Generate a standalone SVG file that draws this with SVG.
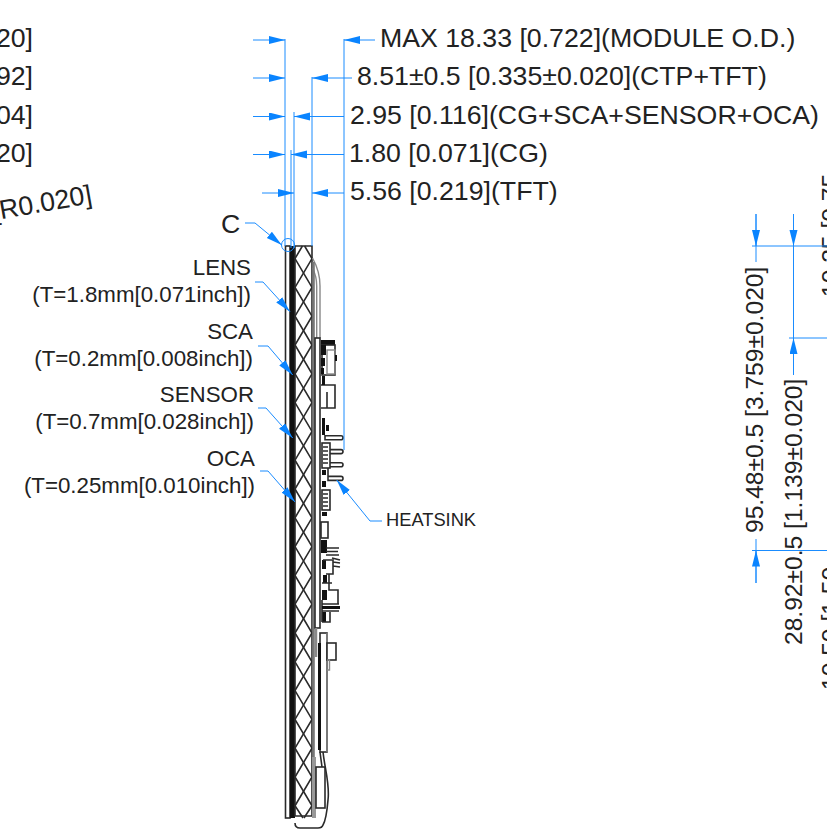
<svg xmlns="http://www.w3.org/2000/svg" width="827" height="832" viewBox="0 0 827 832">
<style>
text{font-family:"Liberation Sans",Arial,sans-serif;fill:#222}
.d{font-size:26.7px}
.r{font-size:24.6px}
.l{font-size:22.3px;text-anchor:end}
.ln{fill:none;stroke:#1a8cff;stroke-width:1}
.lm{fill:none;stroke:#1a8cff;stroke-width:1;marker-end:url(#a)}
.k{fill:none;stroke:#2a2a2a;stroke-width:1.6}
.g{fill:none;stroke:#888;stroke-width:1.4}
.f{fill:#fff;stroke:#2a2a2a;stroke-width:1.6}
.b{fill:#111}
</style>
<defs>
<marker id="a" markerUnits="userSpaceOnUse" markerWidth="17" markerHeight="9" refX="16" refY="4" orient="auto"><path d="M0 0L16 4L0 8Z" fill="#0a84ff"/></marker>
</defs>
<rect width="827" height="832" fill="#fff"/>
<g id="cropped-text">
<text class="d" x="33" y="47" text-anchor="end">20]</text>
<text class="d" x="33" y="85" text-anchor="end">92]</text>
<text class="d" x="33" y="124" text-anchor="end">04]</text>
<text class="d" x="33" y="162" text-anchor="end">20]</text>
<text class="d" x="93" y="203" text-anchor="end" transform="rotate(-10 93 203)">[R0.020]</text>
<text class="r" transform="translate(839 297) rotate(-90)">10.25 [0.75</text>
<text class="r" transform="translate(839 690) rotate(-90)">10.50 [1.50</text>
</g>
<g id="module">
<rect x="285.500" y="246" width="4.500" height="572" class="f"/>
<rect x="290" y="246" width="5" height="572" class="b"/>
<path d="M295 246H312V816H295Z" class="f"/>
<path class="k" d="M302.400 246L295 258.600L312 287.400L295 316.200L312 345L295 373.800L312 402.600L295 431.400L312 460.200L295 489L312 517.800L295 546.600L312 575.400L295 604.200L312 633L295 661.800L312 690.600L295 719.400L312 748.200L295 777L312 805.800L304 818"/>
<path class="k" d="M304.600 246L312 258.600L295 287.400L312 316.200L295 345L312 373.800L295 402.600L312 431.400L295 460.200L312 489L295 517.800L312 546.600L295 575.400L312 604.200L295 633L312 661.800L295 690.600L312 719.400L295 748.200L312 777L295 805.800L303 818"/>
<path class="g" d="M312.500 258C317 266 320 274 320 286V338M312.500 268C315 273 316.700 278 316.700 286V338"/>
<path d="M313.500 262V757" stroke="#777" stroke-width="2.600" fill="none"/>
</g>
<g id="pcb">
<rect x="315" y="338" width="5" height="290" class="f"/>
<path d="M316 628V657" stroke="#888" stroke-width="2.500" fill="none"/>
<rect x="321" y="340" width="14" height="5.500" class="b"/>
<rect x="322" y="345" width="13" height="30" class="f"/>
<rect x="327" y="350" width="8" height="24" class="g"/>
<path class="b" d="M321 345h5v10h-5zM321 358h4v8h-4zM321 368h3v6h-3z"/>
<rect x="335" y="355" width="2" height="6" class="b"/>
<path class="k" d="M321 385H335V408H321M327 392V408"/>
<path class="b" d="M322 376h3v9h-3zM322 418h3v17h-3zM326 425h3v6h-3z"/>
<g id="heatsink">
<path class="f" d="M325 435.700H341a2 2 0 0 1 0 4H325zM325 449.600H341a2 2 0 0 1 0 4H325zM325 462.700H341a2 2 0 0 1 0 4H325zM328 476.400H341a2 2 0 0 1 0 4H328V468"/>
</g>
<rect x="322" y="443" width="8" height="25" class="f"/>
<path class="k" d="M323 447h5M323 451h5M323 455h5M323 459h5M323 463h5"/>
<path class="b" d="M322 470h4v5h-4zM322 481h4v6h-4z"/>
<rect x="322" y="490" width="8" height="20" class="f"/>
<path class="k" d="M323 494h5M323 498h5M323 502h5M323 506h5"/>
<path class="b" d="M322 512h5v4h-5z"/>
<rect x="321" y="522" width="7" height="16" class="f"/>
<path class="b" d="M321 540h6v13h-6zM322 560h4v9h-4zM323 575h4v8h-4zM322 590h5v10h-5zM322 612h4v10h-4z"/>
<path class="k" d="M326 548H339M326 551.500H338M326 555H339M332 558L340 560M333 562L340 563M333 566L340 567M323 560H333V574H326M329 574V590H338V604M322 583H332M322 600V622M330 612V622H322"/>
<path d="M322 607.500H340" stroke="#111" stroke-width="3" fill="none"/>
<path class="k" d="M322 604H339M322 611H339"/>
<rect x="320" y="633" width="7" height="119" class="f"/>
<rect x="318" y="643" width="3" height="107" class="b"/>
<path class="g" d="M327 633V752"/>
<rect x="327" y="643" width="9" height="17" class="f"/>
<path class="g" d="M327 660H329.500V670H327"/>
<path d="M312 757H316V818H312Z" fill="#999"/>
<rect x="316" y="767" width="9" height="41" class="f"/>
<path class="k" d="M320 752L322 767M323 752C325 770 330 785 328 800C327 812 326 820 323 825C322 828 320 828 318 828H300C297 828 295 826 295 823"/>
</g>
<g id="connectors">
<path class="ln" d="M285 39V246M344 39V450M312 77V246M294 112V248M291 150V248"/>
<path class="lm" d="M253 40H285"/><path class="lm" d="M375 40H344"/>
<path class="lm" d="M253 78H285"/><path class="lm" d="M352 78H312"/>
<path class="lm" d="M253 116.500H285"/><path class="lm" d="M344 116.500H294"/>
<path class="lm" d="M253 154.500H285"/><path class="lm" d="M344 154.500H291"/>
<path class="lm" d="M262 193H294"/><path class="lm" d="M344 193H312"/>
<circle cx="288" cy="245" r="6.500" class="ln"/>
<path class="lm" d="M245 223H255L281.700 245"/>
<path class="lm" d="M255 282H263L290 311.700"/>
<path class="lm" d="M258 346H268L292.700 375"/>
<path class="lm" d="M258 408H266L292.700 438"/>
<path class="lm" d="M260 471H268L295 502"/>
<path class="lm" d="M382 521H370L336.700 480"/>
<path class="ln" d="M756 214V262M752 246H827M793.500 214V375M789 338H827M756 539V583M752 550.500H827"/>
<path class="lm" d="M756 214V246"/><path class="lm" d="M793.500 214V246"/>
<path class="lm" d="M793.500 375V338"/><path class="lm" d="M756 583V550.500"/>
</g>
<g id="dims">
<text class="d" x="380" y="47">MAX 18.33 [0.722](MODULE O.D.)</text>
<text class="d" x="357" y="85">8.51±0.5 [0.335±0.020](CTP+TFT)</text>
<text class="d" x="350" y="124">2.95 [0.116](CG+SCA+SENSOR+OCA)</text>
<text class="d" x="349" y="162">1.80 [0.071](CG)</text>
<text class="d" x="350" y="200">5.56 [0.219](TFT)</text>
<text class="r" transform="translate(763 533) rotate(-90)">95.48±0.5 [3.759±0.020]</text>
<text class="r" transform="translate(802 645) rotate(-90)">28.92±0.5 [1.139±0.020]</text>
</g>
<g id="label-c"><text class="d" x="221" y="233">C</text></g>
<g id="label-lens"><text class="l" x="251" y="275">LENS</text><text class="l" x="251" y="302">(T=1.8mm[0.071inch])</text></g>
<g id="label-sca"><text class="l" x="253" y="339">SCA</text><text class="l" x="253" y="366">(T=0.2mm[0.008inch])</text></g>
<g id="label-sensor"><text class="l" x="254" y="402">SENSOR</text><text class="l" x="254" y="429">(T=0.7mm[0.028inch])</text></g>
<g id="label-oca"><text class="l" x="255" y="466">OCA</text><text class="l" x="255" y="493">(T=0.25mm[0.010inch])</text></g>
<g id="label-heatsink"><text x="386" y="526" font-size="18.300">HEATSINK</text></g>
</svg>
